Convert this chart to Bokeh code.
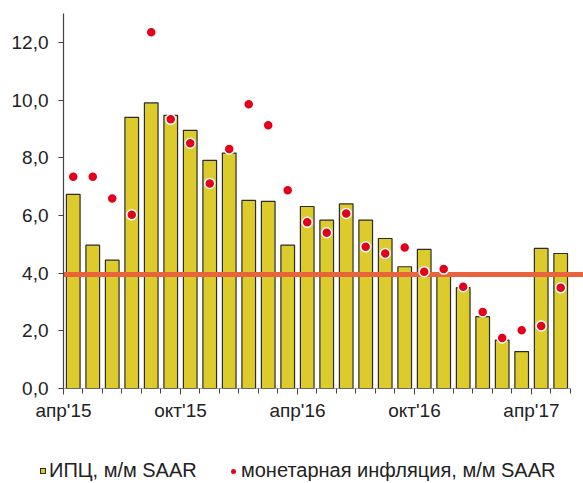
from bokeh.plotting import figure
from bokeh.layouts import column
from bokeh.models import Range1d, FixedTicker, Div
from bokeh.embed import file_html
from bokeh.resources import INLINE

# ---- data ----
cpi = [6.73, 4.97, 4.45, 9.40, 9.90, 9.47, 8.95, 7.91, 8.16, 6.52, 6.49, 4.97,
       6.31, 5.84, 6.40, 5.84, 5.20, 4.22, 4.82, 3.95, 3.50, 2.49, 1.68, 1.28,
       4.86, 4.68]
money = [7.34, 7.34, 6.59, 6.02, 12.35, 9.33, 8.50, 7.11, 8.30, 9.85, 9.13, 6.87,
         5.76, 5.40, 6.07, 4.91, 4.68, 4.89, 4.05, 4.14, 3.53, 2.65, 1.75, 2.02,
         2.17, 3.49]
target = 3.95
x_tick_pos = [0, 6, 12, 18, 24]
x_tick_labels = ["апр'15", "окт'15", "апр'16", "окт'16", "апр'17"]
y_ticks = [0, 2, 4, 6, 8, 10, 12]
y_tick_labels = ["0,0", "2,0", "4,0", "6,0", "8,0", "10,0", "12,0"]
legend_labels = ["ИПЦ, м/м SAAR", "монетарная инфляция, м/м SAAR"]

n = len(cpi)
xc = [i + 0.5 for i in range(n)]

FONT = "Liberation Sans"
BAR = "#DCCB2A"
RED = "#E2001A"
LINE = "#E8643A"

p = figure(width=583, height=448, output_backend="svg", toolbar_location=None,
           x_range=Range1d(0, n + 0.67), y_range=Range1d(0, 13),
           min_border_left=63, min_border_right=0, min_border_top=13,
           min_border_bottom=60)
p.outline_line_color = None
p.grid.visible = False
p.background_fill_color = "white"

bars = p.vbar(x=xc, top=cpi, width=0.7, fill_color=BAR, line_color="#2b2b2b",
              line_width=1.2)
p.hspan(y=[target], line_color=LINE, line_width=5)
dots = p.scatter(x=xc, y=money, size=10, fill_color=RED, line_color="white",
                 line_width=1.5)

# x axis line only over categories
p.xaxis.axis_line_color = None
p.segment(x0=[0], x1=[n], y0=[0], y1=[0], line_color="#444444", line_width=1.2)

xa = p.xaxis[0]
xa.ticker = FixedTicker(ticks=x_tick_pos, minor_ticks=list(range(0, n + 1)))
xa.major_label_overrides = {t: l for t, l in zip(x_tick_pos, x_tick_labels)}
xa.major_tick_in = 0
xa.major_tick_out = 6
xa.minor_tick_in = 0
xa.minor_tick_out = 5
xa.major_tick_line_color = "#444444"
xa.minor_tick_line_color = "#444444"
xa.major_label_text_font = FONT
xa.major_label_text_font_size = "19px"
xa.major_label_text_color = "#222222"
xa.major_label_standoff = 5

ya = p.yaxis[0]
ya.ticker = FixedTicker(ticks=y_ticks)
ya.major_label_overrides = {t: l for t, l in zip(y_ticks, y_tick_labels)}
ya.axis_line_color = "#444444"
ya.axis_line_width = 1.2
ya.major_tick_in = 0
ya.major_tick_out = 5
ya.minor_tick_line_color = None
ya.major_tick_line_color = "#444444"
ya.major_label_text_font = FONT
ya.major_label_text_font_size = "19px"
ya.major_label_text_color = "#222222"
ya.major_label_standoff = 10

# ---- legend strip ----
legend_html = (
    '<div style="position:relative;width:583px;height:35px;'
    "font-family:'Liberation Sans',Arial,sans-serif;font-size:20px;"
    'line-height:20px;color:#222222;white-space:nowrap;">'
    '<span style="position:absolute;left:40px;top:20px;width:6px;height:6px;'
    'background:%s;border:1px solid #2b2b2b;"></span>'
    '<span style="position:absolute;left:49px;top:12px;">%s</span>'
    '<span style="position:absolute;left:231px;top:21px;width:5px;height:5px;'
    'border-radius:50%%;background:%s;"></span>'
    '<span style="position:absolute;left:241px;top:12px;">%s</span>'
    '</div>'
) % (BAR, legend_labels[0], RED, legend_labels[1])

leg = Div(text=legend_html, width=583, height=35, margin=(0, 0, 0, 0))

layout = column(p, leg, spacing=0)
open("out.html", "w").write(file_html(layout, INLINE))
